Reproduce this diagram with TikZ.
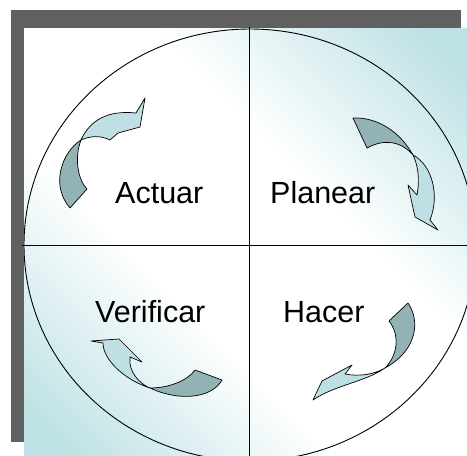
\documentclass[tikz,border=0pt]{standalone}
\usepackage{fontspec}
\setmainfont{Liberation Sans}
\definecolor{frame}{HTML}{606060}
\definecolor{sky}{HTML}{BDE1E4}
\definecolor{front}{HTML}{BEE0E4}
\definecolor{back}{HTML}{93B2B5}
\begin{document}
\begin{tikzpicture}[x=1pt,y=-1pt,
  lbl/.style={font=\fontsize{30.5}{32}\selectfont,inner sep=0pt,anchor=base west},
  fr/.style={fill=front,draw=black,line width=0.7pt,line join=round},
  bk/.style={fill=back,draw=black,line width=0.7pt,line join=round}]
  \useasboundingbox (0,0) rectangle (467,456);
  \fill[frame] (11,10) rectangle (461,442);
  % diagonal background wash
  \begin{scope}
    \clip (24,28) rectangle (467,456);
    \foreach \i in {-44,...,43} {
      \pgfmathsetmacro\ka{3.5+10*\i}
      \pgfmathsetmacro\kb{\ka+10.6}
      \pgfmathsetmacro\tint{max(0,min(100,(abs(10*\i+5)/435.5-0.28)/0.62*100))}
      \fill[sky!\tint!white] (\ka-100,-100) -- (\ka+600,600) -- (\kb+600,600) -- (\kb-100,-100) -- cycle;
    }
  \end{scope}
  % circle and quadrants
  \coordinate (o) at (250,245);
  \coordinate (n) at (249,27);
  \coordinate (s) at (249,456);
  \coordinate (w) at (22,245);
  \coordinate (e) at (467,245);
  \begin{scope}
    \clip (24,27) rectangle (467,456);
    \draw[line width=0.9pt] (o) ellipse [x radius=226,y radius=216];
  \end{scope}
  \draw[line width=1pt] (n) -- (s);
  \draw[line width=1pt] (w) -- (e);
  \node[lbl] (act) at (115,203) {Actuar};
  \node[lbl] (pla) at (270,203) {Planear};
  \node[lbl] (ver) at (95,322) {Verificar};
  \node[lbl] (hac) at (283,322) {Hacer};
  % Actuar arrow
  \draw[bk] (81,140) .. controls (62,152) and (50,185) .. (70,208) -- (87,189) .. controls (78,180) and (74,158) .. (81,140);
  \draw[fr] (81,140) .. controls (90,120) and (108,110) .. (136,113) -- (145,98) -- (140,127) -- (118,133) -- (110,140) .. controls (100,135) and (90,136) .. (81,140);
  % Planear arrow
  \draw[bk] (353,118) .. controls (378,117) and (400,132) .. (413,155) .. controls (402,142) and (385,138) .. (367,148) -- cycle;
  \draw[fr] (413,155) .. controls (432,165) and (440,195) .. (430,220) -- (438,230) -- (415,217) -- (408,185) -- (417,195) .. controls (420,180) and (418,165) .. (413,155);
  % Verificar arrow
  \draw[bk] (150,388) .. controls (170,388) and (188,380) .. (195,370) -- (222,380) .. controls (212,398) and (180,402) .. (150,388);
  \draw[fr] (150,388) .. controls (125,380) and (103,360) .. (103,343) -- (91,341) -- (119,339) -- (142,362) -- (130,357) .. controls (128,372) and (140,384) .. (150,388);
  % Hacer arrow
  \draw[bk] (408,303) .. controls (420,320) and (418,350) .. (385,368) .. controls (398,355) and (400,335) .. (389,321) -- cycle;
  \draw[fr] (385,368) .. controls (365,382) and (335,385) .. (313,400) -- (322,381) -- (352,365) -- (345,374) .. controls (360,377) and (375,374) .. (385,368);
\end{tikzpicture}
\end{document}
